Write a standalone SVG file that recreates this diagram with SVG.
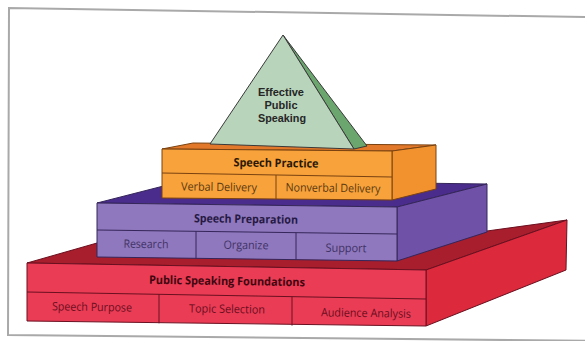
<svg xmlns="http://www.w3.org/2000/svg" width="585" height="341" viewBox="0 0 585 341">
<style>
text{font-family:"Open Sans","Noto Sans",sans-serif;text-anchor:middle;font-size:11.5px}
.b{font-weight:700;font-size:11.5px}
.pt{font-family:"Liberation Sans","Arial",sans-serif;font-weight:700;font-size:11.5px;fill:#262626}
.ln{stroke-width:1;stroke-linejoin:round}
.red{stroke:#6a1020}
.pur{stroke:#35265a}
.org{stroke:#7a4210}
.pyr{stroke:#3a3a3a}
.tr{fill:#6a0e1e}.trb{fill:#40060f}
.tp{fill:#3f3266}.tpb{fill:#261944}
.to{fill:#5a3812}.tob{fill:#2a1706}
</style>
<rect width="585" height="341" fill="#ffffff"/>
<path d="M600,17.3 L9,8 L8,335 L600,341" fill="none" stroke="#a9a9a9" stroke-width="2"/>
<g id="connectors"/>
<g id="foundations">
  <polygon class="ln red" points="27,263 97,243 487,231 567,220 426,270" fill="#a81e2c"/>
  <polygon class="ln red" points="426,270 567,220 566,270 426,326" fill="#dc2a3c"/>
  <polygon class="ln red" points="27,263 426,270 426,326 27,321" fill="#ea3c55"/>
  <path class="ln red" d="M27,292 L426,299 M159,294.3 L159,323.3 M292,296.6 L292,325.6" fill="none"/>
  <text class="b trb" x="227" y="285" textLength="156" lengthAdjust="spacingAndGlyphs" transform="rotate(0.9 227 281)">Public Speaking Foundations</text>
  <text class="tr" x="92" y="311" textLength="80" lengthAdjust="spacingAndGlyphs" transform="rotate(0.9 92 307)">Speech Purpose</text>
  <text class="tr" x="227" y="313" textLength="76" lengthAdjust="spacingAndGlyphs" transform="rotate(0.9 227 309)">Topic Selection</text>
  <text class="tr" x="366" y="317" textLength="90" lengthAdjust="spacingAndGlyphs" transform="rotate(0.9 366 313)">Audience Analysis</text>
</g>
<g id="preparation">
  <polygon class="ln pur" points="97,203 187,180 487,184 397,207" fill="#4a2c8c"/>
  <polygon class="ln pur" points="397,207 487,184 487,232 397,261" fill="#6f52a8"/>
  <polygon class="ln pur" points="97,203 397,207 397,261 97,257" fill="#8f78bd"/>
  <path class="ln pur" d="M97,230 L397,234 M196,231.3 L196,258.3 M296,232.7 L296,259.7" fill="none"/>
  <text class="b tpb" x="246" y="223" textLength="104" lengthAdjust="spacingAndGlyphs" transform="rotate(0.9 246 219)">Speech Preparation</text>
  <text class="tp" x="146" y="248" textLength="45" lengthAdjust="spacingAndGlyphs" transform="rotate(0.9 146 244)">Research</text>
  <text class="tp" x="246" y="249" textLength="45" lengthAdjust="spacingAndGlyphs" transform="rotate(0.9 246 245)">Organize</text>
  <text class="tp" x="346" y="252" textLength="41" lengthAdjust="spacingAndGlyphs" transform="rotate(0.9 346 248)">Support</text>
</g>
<g id="practice">
  <polygon class="ln org" points="162,149 193,143 436,145 392,151" fill="#e2782a"/>
  <polygon class="ln org" points="392,151 436,145 436,189 392,200" fill="#f2922f"/>
  <polygon class="ln org" points="162,149 392,151 392,200 162,198" fill="#f7a23a"/>
  <path class="ln org" d="M162,173 L392,177 M276,175 L276,199" fill="none"/>
  <text class="b tob" x="276" y="167" textLength="85" lengthAdjust="spacingAndGlyphs" transform="rotate(0.9 276 163)">Speech Practice</text>
  <text class="to" x="219" y="191" textLength="76" lengthAdjust="spacingAndGlyphs" transform="rotate(0.9 219 187)">Verbal Delivery</text>
  <text class="to" x="333" y="192" textLength="95" lengthAdjust="spacingAndGlyphs" transform="rotate(0.9 333 188)">Nonverbal Delivery</text>
</g>
<g id="pyramid">
  <polygon class="ln pyr" points="283,35 367,146 354,149" fill="#6aa66e"/>
  <polygon class="ln pyr" points="283,35 210,144 354,149" fill="#b8d4bb"/>
  <text class="pt" x="281" y="96" textLength="46" lengthAdjust="spacingAndGlyphs">Effective</text>
  <text class="pt" x="281" y="109" textLength="33" lengthAdjust="spacingAndGlyphs">Public</text>
  <text class="pt" x="282" y="122" textLength="48" lengthAdjust="spacingAndGlyphs">Speaking</text>
</g>
</svg>
